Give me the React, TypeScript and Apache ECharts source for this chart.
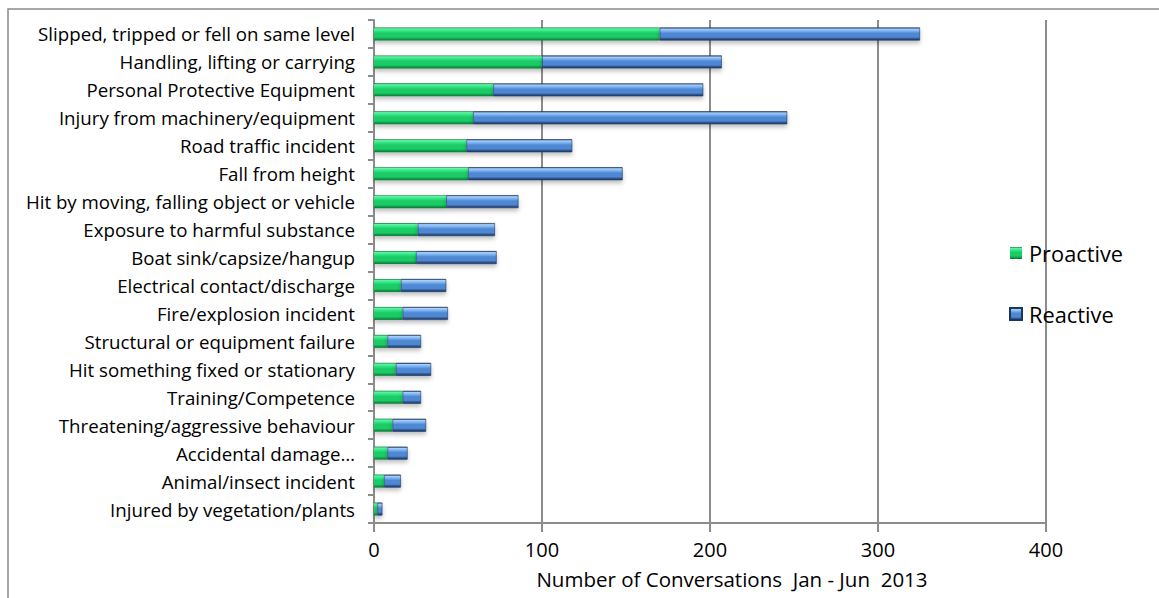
import React, { useEffect, useRef } from "react";
import * as echarts from "echarts";

// Hazard categories, listed top to bottom
const categories: string[] = [
  "Slipped, tripped or fell on same level",
  "Handling, lifting or carrying",
  "Personal Protective Equipment",
  "Injury from machinery/equipment",
  "Road traffic incident",
  "Fall from height",
  "Hit by moving, falling object or vehicle",
  "Exposure to harmful substance",
  "Boat sink/capsize/hangup",
  "Electrical contact/discharge",
  "Fire/explosion incident",
  "Structural or equipment failure",
  "Hit something fixed or stationary",
  "Training/Competence",
  "Threatening/aggressive behaviour",
  "Accidental damage…",
  "Animal/insect incident",
  "Injured by vegetation/plants",
];

const proactive: number[] = [170, 100, 71, 59, 55, 56, 43, 26, 25, 16, 17, 8, 13, 17, 11, 8, 6, 2];
const reactive: number[] = [155, 107, 125, 187, 63, 92, 43, 46, 48, 27, 27, 20, 21, 11, 20, 12, 10, 3];

const xTicks = { min: 0, max: 400, interval: 100 };
const axisTitle = "Number of Conversations  Jan - Jun  2013";

const FONT = "'Open Sans', 'Noto Sans', sans-serif";
const GRID_GRAY = "#8c8c8c";

// Vertical gradient giving the bars a bevelled look
const bevel = (hi: string, light: string, mid: string, dark: string, edge: string) =>
  new echarts.graphic.LinearGradient(0, 0, 0, 1, [
    { offset: 0, color: edge },
    { offset: 0.1, color: hi },
    { offset: 0.28, color: light },
    { offset: 0.45, color: mid },
    { offset: 0.75, color: mid },
    { offset: 0.88, color: dark },
    { offset: 1, color: edge },
  ]);

export default function App() {
  const ref = useRef<HTMLDivElement>(null);

  useEffect(() => {
    if (!ref.current) return;
    const chart = echarts.init(ref.current, undefined, { renderer: "svg" });

    const greenFill = bevel("#5ff5a2", "#2fe383", "#1bcb66", "#0f9a48", "#0a7a35");
    const blueFill = bevel("#a9d0fa", "#74aef0", "#4f87d2", "#2c5590", "#1f3a63");

    chart.setOption({
      animation: false,
      backgroundColor: "#ffffff",
      textStyle: { fontFamily: FONT },
      graphic: [
        {
          type: "rect",
          shape: { x: 8, y: 9, width: 1160, height: 600 },
          style: { fill: "none", stroke: "#8a8a8a", lineWidth: 1.5 },
          silent: true,
          z: -1,
        },
      ],
      grid: { left: 374, right: 113, top: 20, bottom: 75 },
      legend: {
        orient: "vertical",
        left: 1004,
        top: 237,
        itemWidth: 12,
        itemHeight: 12,
        itemGap: 39,
        icon: "rect",
        textStyle: { fontSize: 21.8, color: "#000", fontFamily: FONT, padding: [0, 0, 0, 2] },
        data: ["Proactive", "Reactive"],
      },
      xAxis: {
        type: "value",
        min: xTicks.min,
        max: xTicks.max,
        interval: xTicks.interval,
        axisLine: { show: true, lineStyle: { color: GRID_GRAY, width: 2 } },
        axisTick: { show: true, length: 9, lineStyle: { color: GRID_GRAY, width: 2 } },
        splitLine: { show: true, lineStyle: { color: GRID_GRAY, width: 2 } },
        axisLabel: { fontSize: 20, color: "#000", margin: 16, fontFamily: FONT },
        name: axisTitle,
        nameLocation: "middle",
        nameGap: 45,
        nameTextStyle: { fontSize: 20.5, color: "#000", fontFamily: FONT, padding: [0, 0, 0, 44] },
      },
      yAxis: {
        type: "category",
        inverse: true,
        data: categories,
        axisLine: { show: true, lineStyle: { color: GRID_GRAY, width: 2 } },
        axisTick: { show: true, length: 6, lineStyle: { color: GRID_GRAY, width: 2 } },
        axisLabel: { fontSize: 18.7, color: "#000", margin: 19, fontFamily: FONT },
        splitLine: { show: false },
      },
      series: [
        {
          name: "Proactive",
          type: "bar",
          stack: "total",
          barWidth: 13,
          data: proactive,
          itemStyle: {
            color: greenFill,
            shadowColor: "rgba(0,0,0,0.25)",
            shadowBlur: 4,
            shadowOffsetY: 3,
          },
        },
        {
          name: "Reactive",
          type: "bar",
          stack: "total",
          barWidth: 13,
          data: reactive,
          itemStyle: {
            color: blueFill,
            borderColor: "#1d3558",
            borderWidth: 0.6,
            shadowColor: "rgba(0,0,0,0.25)",
            shadowBlur: 4,
            shadowOffsetY: 3,
          },
        },
      ],
    });

    return () => chart.dispose();
  }, []);

  return (
    <div
      ref={ref}
      style={{ position: "fixed", left: 0, top: 0, width: 1159, height: 598, background: "#fff" }}
    />
  );
}
